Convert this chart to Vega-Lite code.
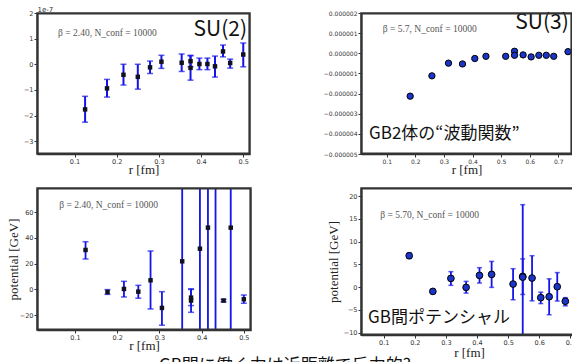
{
  "$schema": "https://vega.github.io/schema/vega-lite/v6.json",
  "background": "white",
  "padding": {"left": 6, "top": 4, "right": 0, "bottom": 0},
  "columns": 2,
  "spacing": {"row": 34, "column": 110},
  "bounds": "flush",
  "config": {
    "view": {"stroke": "#333333", "strokeWidth": 1.5},
    "axis": {
      "domain": true, "domainColor": "#333333", "domainWidth": 1.5, "zindex": 1, "grid": false, "tickColor": "#333", "tickSize": 3, "tickWidth": 1,
      "labelOverlap": false,
      "labelFont": "DejaVu Sans", "labelFontSize": 6.5, "labelColor": "#333", "labelPadding": 1,
      "titleFont": "Liberation Serif", "titleFontSize": 13, "titleFontWeight": "normal", "titleColor": "#222"
    }
  },
  "datasets": {
    "su2wf": [
      {"r": 0.125, "v": -1.76, "lo": -2.26, "hi": -1.25},
      {"r": 0.177, "v": -0.94, "lo": -1.28, "hi": -0.59},
      {"r": 0.216, "v": -0.41, "lo": -0.81, "hi": 0.0},
      {"r": 0.25, "v": -0.49, "lo": -0.97, "hi": 0.0},
      {"r": 0.279, "v": -0.12, "lo": -0.36, "hi": 0.125},
      {"r": 0.306, "v": 0.1, "lo": -0.16, "hi": 0.35},
      {"r": 0.354, "v": 0.06, "lo": -0.28, "hi": 0.4},
      {"r": 0.375, "v": 0.12, "lo": -0.1, "hi": 0.35},
      {"r": 0.375, "v": -0.14, "lo": -0.62, "hi": 0.33},
      {"r": 0.396, "v": 0.01, "lo": -0.21, "hi": 0.24},
      {"r": 0.415, "v": 0.01, "lo": -0.21, "hi": 0.24},
      {"r": 0.433, "v": -0.08, "lo": -0.5, "hi": 0.32},
      {"r": 0.452, "v": 0.5, "lo": 0.29, "hi": 0.75},
      {"r": 0.469, "v": 0.05, "lo": -0.15, "hi": 0.2},
      {"r": 0.5, "v": 0.38, "lo": -0.1, "hi": 0.83}
    ],
    "su3wf": [
      {"r": 0.182, "v": -2.13e-6},
      {"r": 0.258, "v": -1.12e-6},
      {"r": 0.316, "v": -0.49e-6},
      {"r": 0.365, "v": -0.53e-6},
      {"r": 0.408, "v": -0.26e-6},
      {"r": 0.447, "v": -0.15e-6},
      {"r": 0.516, "v": -0.15e-6},
      {"r": 0.547, "v": 0.1e-6},
      {"r": 0.547, "v": -0.1e-6},
      {"r": 0.577, "v": -0.08e-6},
      {"r": 0.605, "v": -0.18e-6},
      {"r": 0.632, "v": -0.1e-6},
      {"r": 0.658, "v": -0.1e-6},
      {"r": 0.684, "v": -0.15e-6},
      {"r": 0.734, "v": 0.08e-6}
    ],
    "su2pot": [
      {"r": 0.125, "v": 30.6, "lo": 23.6, "hi": 37.0},
      {"r": 0.177, "v": -2.0, "lo": -3.8, "hi": -0.1},
      {"r": 0.216, "v": 0.4, "lo": -5.8, "hi": 6.3},
      {"r": 0.25, "v": -1.7, "lo": -6.8, "hi": 3.2},
      {"r": 0.279, "v": 7.1, "lo": -15.1, "hi": 29.8},
      {"r": 0.306, "v": -14.3, "lo": -27.7, "hi": -1.7},
      {"r": 0.354, "v": 21.8, "lo": -300, "hi": 340},
      {"r": 0.375, "v": -6.3, "lo": -12.5, "hi": 0.0},
      {"r": 0.375, "v": -8.6, "lo": -17.7, "hi": 0.5},
      {"r": 0.396, "v": 31.6, "lo": -300, "hi": 360},
      {"r": 0.415, "v": 47.9, "lo": -300, "hi": 400},
      {"r": 0.433, "v": 110, "lo": -300, "hi": 500},
      {"r": 0.452, "v": -8.6, "lo": -9.6, "hi": -7.6},
      {"r": 0.469, "v": 47.9, "lo": -300, "hi": 400},
      {"r": 0.5, "v": -7.6, "lo": -10.7, "hi": -4.3}
    ],
    "su3pot": [
      {"r": 0.182, "v": 6.9, "lo": 6.3, "hi": 7.5},
      {"r": 0.258, "v": -0.93, "lo": -1.2, "hi": -0.65},
      {"r": 0.316, "v": 1.92, "lo": 0.4, "hi": 3.4},
      {"r": 0.365, "v": -0.05, "lo": -1.3, "hi": 1.27},
      {"r": 0.408, "v": 2.58, "lo": 0.9, "hi": 4.27},
      {"r": 0.447, "v": 2.8, "lo": -0.05, "hi": 5.65},
      {"r": 0.516, "v": 0.68, "lo": -2.76, "hi": 4.05},
      {"r": 0.547, "v": 2.36, "lo": -13.4, "hi": 18.1},
      {"r": 0.547, "v": 2.2, "lo": -1.6, "hi": 6.2},
      {"r": 0.577, "v": 2.0, "lo": -3.0, "hi": 6.9},
      {"r": 0.605, "v": -2.3, "lo": -3.6, "hi": -1.1},
      {"r": 0.632, "v": -2.1, "lo": -6.05, "hi": 1.83},
      {"r": 0.658, "v": 0.1, "lo": -3.05, "hi": 3.2},
      {"r": 0.684, "v": -3.1, "lo": -4.1, "hi": -2.3}
    ]
  },
  "concat": [
    {
      "width": 213, "height": 141,
      "data": {"name": "su2wf"},
      "resolve": {"axis": {"x": "independent", "y": "independent"}},
      "layer": [
        {
          "mark": {"type": "rule", "color": "#1414e8", "strokeWidth": 2, "clip": true},
          "encoding": {
            "x": {"field": "r", "type": "quantitative", "scale": {"domain": [0.011, 0.516], "nice": false, "zero": false},
                  "axis": {"orient": "bottom", "values": [0.1, 0.2, 0.3, 0.4, 0.5], "format": ".1f", "labelOverlap": false, "title": "r [fm]", "titleY": 19, "titleBaseline": "alphabetic"}},
            "y": {"field": "lo", "type": "quantitative", "scale": {"domain": [-3.5, 2], "nice": false, "zero": false},
                  "axis": {"orient": "left", "values": [-3, -2, -1, 0, 1, 2], "format": "d", "labelOverlap": false, "title": "1e-7", "titleAngle": 0, "titleX": 0, "titleY": -2, "titleAlign": "left", "titleBaseline": "alphabetic", "titleFont": "DejaVu Sans", "titleFontSize": 7, "titleColor": "#333"}},
            "y2": {"field": "hi"}
          }
        },
        {
          "mark": {"type": "tick", "orient": "horizontal", "color": "#1414e8", "size": 6, "thickness": 1.5, "clip": true},
          "encoding": {"x": {"field": "r", "type": "quantitative", "axis": null}, "y": {"field": "lo", "type": "quantitative", "axis": null}}
        },
        {
          "mark": {"type": "tick", "orient": "horizontal", "color": "#1414e8", "size": 6, "thickness": 1.5, "clip": true},
          "encoding": {"x": {"field": "r", "type": "quantitative", "axis": null}, "y": {"field": "hi", "type": "quantitative", "axis": null}}
        },
        {
          "mark": {"type": "square", "color": "#111122", "size": 20, "opacity": 1},
          "encoding": {"x": {"field": "r", "type": "quantitative", "axis": null}, "y": {"field": "v", "type": "quantitative", "axis": null}}
        },
        {
          "data": {"values": [{}]},
          "mark": {"type": "text", "text": "β = 2.40, N_conf = 10000", "align": "left", "baseline": "middle", "font": "Liberation Serif", "fontSize": 9.5, "color": "#555"},
          "encoding": {"x": {"datum": 0.061, "type": "quantitative", "axis": null}, "y": {"datum": 1.22, "type": "quantitative", "axis": null}}
        },
        {
          "data": {"values": [{}]},
          "mark": {"type": "text", "text": "SU(2)", "align": "right", "baseline": "middle", "font": "Noto Sans CJK JP", "fontSize": 21, "color": "#111"},
          "encoding": {"x": {"datum": 0.509, "type": "quantitative", "axis": null}, "y": {"datum": 1.34, "type": "quantitative", "axis": null}}
        },
        {
          "data": {"values": [{}]},
          "mark": {"type": "rect", "fill": "transparent", "stroke": "#333333", "strokeWidth": 1.6},
          "encoding": {
            "x": {"datum": 0.0129, "type": "quantitative", "axis": null}, "x2": {"datum": 0.5141},
            "y": {"datum": -3.469, "type": "quantitative", "axis": null}, "y2": {"datum": 1.969}
          }
        }
      ]
    },
    {
      "width": 211, "height": 141,
      "data": {"name": "su3wf"},
      "resolve": {"axis": {"x": "independent", "y": "independent"}},
      "layer": [
        {
          "mark": {"type": "point", "shape": "circle", "filled": true, "fill": "#1a35c8", "stroke": "#000", "strokeWidth": 1, "size": 40, "opacity": 1},
          "encoding": {
            "x": {"field": "r", "type": "quantitative", "scale": {"domain": [0.010, 0.748], "nice": false, "zero": false},
                  "axis": {"orient": "bottom", "values": [0.1, 0.2, 0.3, 0.4, 0.5, 0.6, 0.7], "format": ".1f", "labelOverlap": false, "title": "r [fm]", "titleY": 19, "titleBaseline": "alphabetic", "labelFontSize": 6}},
            "y": {"field": "v", "type": "quantitative", "scale": {"domain": [-5e-6, 2e-6], "nice": false, "zero": false},
                  "axis": {"orient": "left", "values": [-5e-6, -4e-6, -3e-6, -2e-6, -1e-6, 0, 1e-6, 2e-6], "format": ".6f", "labelOverlap": false, "title": null, "labelFontSize": 6}}
          }
        },
        {
          "data": {"values": [{}]},
          "mark": {"type": "text", "text": "β = 5.7, N_conf = 10000", "align": "left", "baseline": "middle", "font": "Liberation Serif", "fontSize": 9.5, "color": "#555"},
          "encoding": {"x": {"datum": 0.086, "type": "quantitative", "axis": null}, "y": {"datum": 1.21e-6, "type": "quantitative", "axis": null}}
        },
        {
          "data": {"values": [{}]},
          "mark": {"type": "text", "text": "SU(3)", "align": "right", "baseline": "middle", "font": "Noto Sans CJK JP", "fontSize": 21, "color": "#111"},
          "encoding": {"x": {"datum": 0.737, "type": "quantitative", "axis": null}, "y": {"datum": 1.48e-6, "type": "quantitative", "axis": null}}
        },
        {
          "data": {"values": [{}]},
          "mark": {"type": "text", "text": "GB2体の“波動関数”", "align": "left", "baseline": "middle", "font": "Noto Sans CJK JP", "fontSize": 17, "color": "#111"},
          "encoding": {"x": {"datum": 0.038, "type": "quantitative", "axis": null}, "y": {"datum": -4.03e-6, "type": "quantitative", "axis": null}}
        },
        {
          "data": {"values": [{}]},
          "mark": {"type": "rect", "fill": "transparent", "stroke": "#333333", "strokeWidth": 1.6},
          "encoding": {
            "x": {"datum": 0.0128, "type": "quantitative", "axis": null}, "x2": {"datum": 0.7452},
            "y": {"datum": -4.96e-6, "type": "quantitative", "axis": null}, "y2": {"datum": 1.96e-6}
          }
        }
      ]
    },
    {
      "width": 214, "height": 142,
      "data": {"name": "su2pot"},
      "resolve": {"axis": {"x": "independent", "y": "independent"}},
      "layer": [
        {
          "mark": {"type": "rule", "color": "#1414e8", "strokeWidth": 1.8, "clip": true},
          "encoding": {
            "x": {"field": "r", "type": "quantitative", "scale": {"domain": [0.01, 0.517], "nice": false, "zero": false},
                  "axis": {"orient": "bottom", "values": [0.1, 0.2, 0.3, 0.4, 0.5], "format": ".1f", "labelOverlap": false, "title": "r [fm]", "titleY": 19, "titleBaseline": "alphabetic"}},
            "y": {"field": "lo", "type": "quantitative", "scale": {"domain": [-31.4, 78.6], "nice": false, "zero": false},
                  "axis": {"orient": "left", "values": [-20, 0, 20, 40, 60], "format": "d", "labelOverlap": false, "title": "potential [GeV]", "titleX": -17, "titleBaseline": "bottom"}},
            "y2": {"field": "hi"}
          }
        },
        {
          "mark": {"type": "tick", "orient": "horizontal", "color": "#1414e8", "size": 6, "thickness": 1.5, "clip": true},
          "encoding": {"x": {"field": "r", "type": "quantitative", "axis": null}, "y": {"field": "lo", "type": "quantitative", "axis": null}}
        },
        {
          "mark": {"type": "tick", "orient": "horizontal", "color": "#1414e8", "size": 6, "thickness": 1.5, "clip": true},
          "encoding": {"x": {"field": "r", "type": "quantitative", "axis": null}, "y": {"field": "hi", "type": "quantitative", "axis": null}}
        },
        {
          "mark": {"type": "square", "color": "#111122", "size": 20, "opacity": 1, "clip": true},
          "encoding": {"x": {"field": "r", "type": "quantitative", "axis": null}, "y": {"field": "v", "type": "quantitative", "axis": null}}
        },
        {
          "data": {"values": [{}]},
          "mark": {"type": "text", "text": "β = 2.40, N_conf = 10000", "align": "left", "baseline": "middle", "font": "Liberation Serif", "fontSize": 9.5, "color": "#555"},
          "encoding": {"x": {"datum": 0.063, "type": "quantitative", "axis": null}, "y": {"datum": 65.7, "type": "quantitative", "axis": null}}
        },
        {
          "data": {"values": [{}]},
          "mark": {"type": "text", "text": "GB間に働く力は近距離で斥力的?", "align": "left", "baseline": "top", "font": "Noto Sans CJK JP", "fontSize": 17, "color": "#111"},
          "encoding": {"x": {"datum": 0.299, "type": "quantitative", "axis": null}, "y": {"datum": -53.1, "type": "quantitative", "axis": null}}
        },
        {
          "data": {"values": [{}]},
          "mark": {"type": "rect", "fill": "transparent", "stroke": "#333333", "strokeWidth": 1.6},
          "encoding": {
            "x": {"datum": 0.0119, "type": "quantitative", "axis": null}, "x2": {"datum": 0.5151},
            "y": {"datum": -30.78, "type": "quantitative", "axis": null}, "y2": {"datum": 77.98}
          }
        }
      ]
    },
    {
      "width": 216, "height": 147,
      "data": {"name": "su3pot"},
      "resolve": {"axis": {"x": "independent", "y": "independent"}},
      "layer": [
        {
          "mark": {"type": "rule", "color": "#1414e8", "strokeWidth": 1.8, "clip": true},
          "encoding": {
            "x": {"field": "r", "type": "quantitative", "scale": {"domain": [0.027, 0.7215], "nice": false, "zero": false},
                  "axis": {"orient": "bottom", "values": [0.1, 0.2, 0.3, 0.4, 0.5, 0.6, 0.7], "format": ".1f", "labelOverlap": false, "title": "r [fm]", "titleY": 21, "titleBaseline": "alphabetic"}},
            "y": {"field": "lo", "type": "quantitative", "scale": {"domain": [-10.5, 21.76], "nice": false, "zero": false},
                  "axis": {"orient": "left", "values": [-10, -5, 0, 5, 10, 15, 20], "format": "d", "labelOverlap": false, "title": "potential [GeV]", "titleX": -21, "titleBaseline": "bottom"}},
            "y2": {"field": "hi"}
          }
        },
        {
          "mark": {"type": "tick", "orient": "horizontal", "color": "#1414e8", "size": 5, "thickness": 1.5, "clip": true},
          "encoding": {"x": {"field": "r", "type": "quantitative", "axis": null}, "y": {"field": "lo", "type": "quantitative", "axis": null}}
        },
        {
          "mark": {"type": "tick", "orient": "horizontal", "color": "#1414e8", "size": 5, "thickness": 1.5, "clip": true},
          "encoding": {"x": {"field": "r", "type": "quantitative", "axis": null}, "y": {"field": "hi", "type": "quantitative", "axis": null}}
        },
        {
          "mark": {"type": "point", "shape": "circle", "filled": true, "fill": "#1a35c8", "stroke": "#000", "strokeWidth": 1, "size": 45, "opacity": 1, "clip": true},
          "encoding": {"x": {"field": "r", "type": "quantitative", "axis": null}, "y": {"field": "v", "type": "quantitative", "axis": null}}
        },
        {
          "data": {"values": [{}]},
          "mark": {"type": "text", "text": "β = 5.70, N_conf = 10000", "align": "left", "baseline": "middle", "font": "Liberation Serif", "fontSize": 9.5, "color": "#555"},
          "encoding": {"x": {"datum": 0.089, "type": "quantitative", "axis": null}, "y": {"datum": 15.77, "type": "quantitative", "axis": null}}
        },
        {
          "data": {"values": [{}]},
          "mark": {"type": "text", "text": "GB間ポテンシャル", "align": "left", "baseline": "middle", "font": "Noto Sans CJK JP", "fontSize": 17, "color": "#111"},
          "encoding": {"x": {"datum": 0.0496, "type": "quantitative", "axis": null}, "y": {"datum": -6.66, "type": "quantitative", "axis": null}}
        },
        {
          "data": {"values": [{}]},
          "mark": {"type": "rect", "fill": "transparent", "stroke": "#333333", "strokeWidth": 1.6},
          "encoding": {
            "x": {"datum": 0.0296, "type": "quantitative", "axis": null}, "x2": {"datum": 0.7189},
            "y": {"datum": -10.32, "type": "quantitative", "axis": null}, "y2": {"datum": 21.58}
          }
        }
      ]
    }
  ]
}
